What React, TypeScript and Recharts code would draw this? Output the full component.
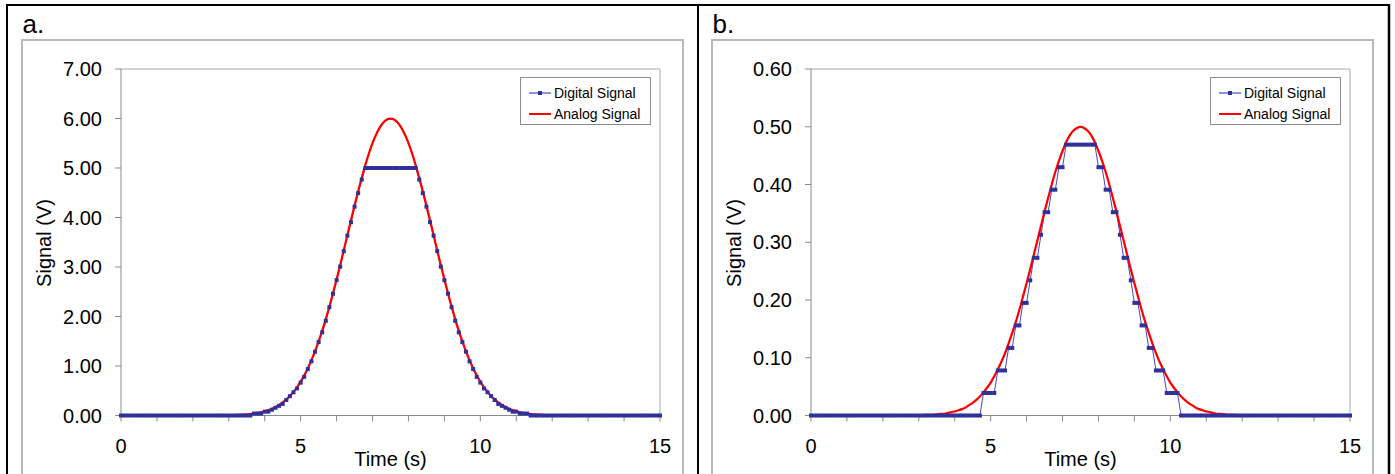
import React from 'react';
import { LineChart, Line, XAxis, YAxis, ReferenceLine, Legend } from 'recharts';

// Sample times (s)
const time = [
  0, 0.1, 0.2, 0.3, 0.4, 0.5, 0.6, 0.7, 0.8, 0.9,
  1, 1.1, 1.2, 1.3, 1.4, 1.5, 1.6, 1.7, 1.8, 1.9,
  2, 2.1, 2.2, 2.3, 2.4, 2.5, 2.6, 2.7, 2.8, 2.9,
  3, 3.1, 3.2, 3.3, 3.4, 3.5, 3.6, 3.7, 3.8, 3.9,
  4, 4.1, 4.2, 4.3, 4.4, 4.5, 4.6, 4.7, 4.8, 4.9,
  5, 5.1, 5.2, 5.3, 5.4, 5.5, 5.6, 5.7, 5.8, 5.9,
  6, 6.1, 6.2, 6.3, 6.4, 6.5, 6.6, 6.7, 6.8, 6.9,
  7, 7.1, 7.2, 7.3, 7.4, 7.5, 7.6, 7.7, 7.8, 7.9,
  8, 8.1, 8.2, 8.3, 8.4, 8.5, 8.6, 8.7, 8.8, 8.9,
  9, 9.1, 9.2, 9.3, 9.4, 9.5, 9.6, 9.7, 9.8, 9.9,
  10, 10.1, 10.2, 10.3, 10.4, 10.5, 10.6, 10.7, 10.8, 10.9,
  11, 11.1, 11.2, 11.3, 11.4, 11.5, 11.6, 11.7, 11.8, 11.9,
  12, 12.1, 12.2, 12.3, 12.4, 12.5, 12.6, 12.7, 12.8, 12.9,
  13, 13.1, 13.2, 13.3, 13.4, 13.5, 13.6, 13.7, 13.8, 13.9,
  14, 14.1, 14.2, 14.3, 14.4, 14.5, 14.6, 14.7, 14.8, 14.9,
  15,
];

// Panel a: analog signal (V)
const analogA = [
  0, 0, 0, 0, 0, 0, 0, 0, 0, 0,
  0, 0, 0, 0, 0, 0, 0, 0, 0, 0,
  0, 0, 0, 0, 0, 0.001, 0.001, 0.002, 0.003, 0.004,
  0.005, 0.007, 0.01, 0.013, 0.018, 0.023, 0.031, 0.04, 0.052, 0.067,
  0.085, 0.108, 0.137, 0.171, 0.213, 0.264, 0.324, 0.394, 0.477, 0.574,
  0.685, 0.812, 0.956, 1.118, 1.298, 1.496, 1.713, 1.948, 2.2, 2.467,
  2.747, 3.038, 3.337, 3.639, 3.942, 4.24, 4.529, 4.804, 5.061, 5.295,
  5.501, 5.676, 5.815, 5.917, 5.979, 6.0, 5.979, 5.917, 5.815, 5.676,
  5.501, 5.295, 5.061, 4.804, 4.529, 4.24, 3.942, 3.639, 3.337, 3.038,
  2.747, 2.467, 2.2, 1.948, 1.713, 1.496, 1.298, 1.118, 0.956, 0.812,
  0.685, 0.574, 0.477, 0.394, 0.324, 0.264, 0.213, 0.171, 0.137, 0.108,
  0.085, 0.067, 0.052, 0.04, 0.031, 0.023, 0.018, 0.013, 0.01, 0.007,
  0.005, 0.004, 0.003, 0.002, 0.001, 0.001, 0, 0, 0, 0,
  0, 0, 0, 0, 0, 0, 0, 0, 0, 0,
  0, 0, 0, 0, 0, 0, 0, 0, 0, 0,
  0,
];

// Panel a: digital signal (V), saturates at 5.00
const digitalA = [
  0, 0, 0, 0, 0, 0, 0, 0, 0, 0,
  0, 0, 0, 0, 0, 0, 0, 0, 0, 0,
  0, 0, 0, 0, 0, 0, 0, 0, 0, 0,
  0, 0, 0, 0, 0, 0, 0, 0.039, 0.039, 0.039,
  0.078, 0.078, 0.117, 0.156, 0.195, 0.234, 0.313, 0.391, 0.469, 0.547,
  0.664, 0.781, 0.938, 1.094, 1.289, 1.484, 1.68, 1.914, 2.188, 2.461,
  2.734, 3.008, 3.32, 3.633, 3.906, 4.219, 4.492, 4.766, 5, 5,
  5, 5, 5, 5, 5, 5, 5, 5, 5, 5,
  5, 5, 5, 4.766, 4.492, 4.219, 3.906, 3.633, 3.32, 3.008,
  2.734, 2.461, 2.188, 1.914, 1.68, 1.484, 1.289, 1.094, 0.938, 0.781,
  0.664, 0.547, 0.469, 0.391, 0.313, 0.234, 0.195, 0.156, 0.117, 0.078,
  0.078, 0.039, 0.039, 0.039, 0, 0, 0, 0, 0, 0,
  0, 0, 0, 0, 0, 0, 0, 0, 0, 0,
  0, 0, 0, 0, 0, 0, 0, 0, 0, 0,
  0, 0, 0, 0, 0, 0, 0, 0, 0, 0,
  0,
];

// Panel b: analog signal (V)
const analogB = [
  0, 0, 0, 0, 0, 0, 0, 0, 0, 0,
  0, 0, 0, 0, 0, 0, 0, 0, 0, 0,
  0, 0, 0, 0, 0, 0, 0, 0, 0, 0,
  0, 0, 0.001, 0.001, 0.001, 0.002, 0.003, 0.003, 0.004, 0.006,
  0.007, 0.009, 0.011, 0.014, 0.018, 0.022, 0.027, 0.033, 0.04, 0.048,
  0.057, 0.068, 0.08, 0.093, 0.108, 0.125, 0.143, 0.162, 0.183, 0.206,
  0.229, 0.253, 0.278, 0.303, 0.328, 0.353, 0.377, 0.4, 0.422, 0.441,
  0.458, 0.473, 0.485, 0.493, 0.498, 0.5, 0.498, 0.493, 0.485, 0.473,
  0.458, 0.441, 0.422, 0.4, 0.377, 0.353, 0.328, 0.303, 0.278, 0.253,
  0.229, 0.206, 0.183, 0.162, 0.143, 0.125, 0.108, 0.093, 0.08, 0.068,
  0.057, 0.048, 0.04, 0.033, 0.027, 0.022, 0.018, 0.014, 0.011, 0.009,
  0.007, 0.006, 0.004, 0.003, 0.003, 0.002, 0.001, 0.001, 0.001, 0,
  0, 0, 0, 0, 0, 0, 0, 0, 0, 0,
  0, 0, 0, 0, 0, 0, 0, 0, 0, 0,
  0, 0, 0, 0, 0, 0, 0, 0, 0, 0,
  0,
];

// Panel b: digital signal (V), quantized
const digitalB = [
  0, 0, 0, 0, 0, 0, 0, 0, 0, 0,
  0, 0, 0, 0, 0, 0, 0, 0, 0, 0,
  0, 0, 0, 0, 0, 0, 0, 0, 0, 0,
  0, 0, 0, 0, 0, 0, 0, 0, 0, 0,
  0, 0, 0, 0, 0, 0, 0, 0, 0.039, 0.039,
  0.039, 0.039, 0.078, 0.078, 0.078, 0.117, 0.117, 0.156, 0.156, 0.195,
  0.195, 0.234, 0.273, 0.273, 0.313, 0.352, 0.352, 0.391, 0.391, 0.43,
  0.43, 0.469, 0.469, 0.469, 0.469, 0.469, 0.469, 0.469, 0.469, 0.469,
  0.43, 0.43, 0.391, 0.391, 0.352, 0.352, 0.313, 0.273, 0.273, 0.234,
  0.195, 0.195, 0.156, 0.156, 0.117, 0.117, 0.078, 0.078, 0.078, 0.039,
  0.039, 0.039, 0.039, 0, 0, 0, 0, 0, 0, 0,
  0, 0, 0, 0, 0, 0, 0, 0, 0, 0,
  0, 0, 0, 0, 0, 0, 0, 0, 0, 0,
  0, 0, 0, 0, 0, 0, 0, 0, 0, 0,
  0, 0, 0, 0, 0, 0, 0, 0, 0, 0,
  0,
];

const xTicks = [0, 1, 2, 3, 4, 5, 6, 7, 8, 9, 10, 11, 12, 13, 14, 15];
const xLabelTicks = [0, 5, 10, 15];
const yTicksA = [0, 1, 2, 3, 4, 5, 6, 7];
const yTicksB = [0, 0.1, 0.2, 0.3, 0.4, 0.5, 0.6];
const seriesNames = ['Digital Signal', 'Analog Signal'];

const FONT = '"Liberation Sans", Arial, Helvetica, sans-serif';
const BLUE_LINE = '#4646c4';
const BLUE_MARK = '#30309a';
const RED = '#ff0000';

const dataA = time.map((t, i) => ({ t, digital: digitalA[i], analog: analogA[i] }));
const dataB = time.map((t, i) => ({ t, digital: digitalB[i], analog: analogB[i] }));

const squareDot = (p: any) => {
  if (p.cx == null || p.cy == null) return <g key={`e-${p.index}`} />;
  return <rect key={`d-${p.index}`} x={p.cx - 2} y={p.cy - 2} width={4} height={4} fill={BLUE_MARK} />;
};

const LegendBox = () => (
  <div
    style={{
      position: 'relative',
      width: 129,
      height: 46,
      border: '1px solid #8c8c8c',
      background: '#fff',
      fontFamily: FONT,
      fontSize: 14,
      color: '#000',
      boxSizing: 'content-box',
    }}
  >
    <svg width={30} height={46} style={{ position: 'absolute', left: 0, top: 0 }}>
      <line x1={8} y1={15} x2={30} y2={15} stroke={BLUE_LINE} strokeWidth={1.2} />
      <rect x={17} y={13} width={4} height={4} fill={BLUE_MARK} />
      <line x1={8} y1={36} x2={30} y2={36} stroke={RED} strokeWidth={2} />
    </svg>
    <div style={{ position: 'absolute', left: 33, top: 6, lineHeight: '18px', whiteSpace: 'nowrap' }}>{seriesNames[0]}</div>
    <div style={{ position: 'absolute', left: 33, top: 27, lineHeight: '18px', whiteSpace: 'nowrap' }}>{seriesNames[1]}</div>
  </div>
);

type PanelProps = {
  left: number;
  width: number;
  letter: string;
  data: { t: number; digital: number; analog: number }[];
  yMax: number;
  yTicks: number[];
};

const Panel = ({ left, width, letter, data, yMax, yTicks }: PanelProps) => {
  const plotLeft = 121;
  const plotRight = 660;
  const plotTop = 69;
  const plotBottom = 415.5;
  const xAxisH = 52;
  return (
    <div style={{ position: 'absolute', left, top: 0, width, height: 474, fontFamily: FONT }}>
      <svg width={width} height={474} style={{ position: 'absolute', left: 0, top: 0 }}>
        <rect x={22} y={40} width={661} height={460} fill="#fff" stroke="#b8b8b8" strokeWidth={2} />
        <text x={22.5} y={33} fontSize={26} fontFamily={FONT} fill="#000">{letter}</text>
      </svg>
      <div style={{ position: 'absolute', left: 0, top: 0 }}>
        <LineChart
          width={width}
          height={474}
          data={data}
          margin={{ top: plotTop, right: width - plotRight, left: 0, bottom: 474 - plotBottom - xAxisH }}
        >
          <XAxis
            dataKey="t"
            type="number"
            domain={[0, 15]}
            ticks={xTicks}
            interval={0}
            height={xAxisH}
            tickSize={6}
            tickMargin={17}
            stroke="#8a8a8a"
            tick={{ fill: '#000', fontSize: 20, fontFamily: FONT }}
            tickFormatter={(v: number) => (xLabelTicks.includes(v) ? String(v) : '')}
            label={{
              content: () => (
                <text x={(plotLeft + plotRight) / 2} y={466} textAnchor="middle" fontSize={20} fontFamily={FONT} fill="#000">
                  Time (s)
                </text>
              ),
            }}
          />
          <YAxis
            type="number"
            domain={[0, yMax]}
            ticks={yTicks}
            interval={0}
            width={plotLeft}
            tickSize={6}
            tickMargin={13}
            stroke="#8a8a8a"
            tick={{ fill: '#000', fontSize: 20, fontFamily: FONT }}
            tickFormatter={(v: number) => v.toFixed(2)}
            label={{
              content: () => (
                <text
                  x={50.5}
                  y={243}
                  transform="rotate(-90 50.5 243)"
                  textAnchor="middle"
                  fontSize={20}
                  fontFamily={FONT}
                  fill="#000"
                >
                  Signal (V)
                </text>
              ),
            }}
          />
          <ReferenceLine y={yMax} stroke="#c4c4c4" strokeWidth={1.5} />
          <ReferenceLine x={15} stroke="#c4c4c4" strokeWidth={1.5} />
          <Legend
            layout="vertical"
            align="center"
            verticalAlign="middle"
            content={() => <LegendBox />}
            wrapperStyle={{ position: 'absolute', left: 520, top: 77, width: 131, height: 48, margin: 0 }}
          />
          <Line
            type="linear"
            dataKey="digital"
            name={seriesNames[0]}
            stroke={BLUE_LINE}
            strokeWidth={1}
            dot={squareDot}
            activeDot={false}
            isAnimationActive={false}
          />
          <Line
            type="monotone"
            dataKey="analog"
            name={seriesNames[1]}
            stroke={RED}
            strokeWidth={2.25}
            dot={false}
            activeDot={false}
            isAnimationActive={false}
          />
        </LineChart>
      </div>
    </div>
  );
};

export default function App() {
  return (
    <div style={{ position: 'absolute', left: 0, top: 0, width: 1395, height: 474, background: '#fff', overflow: 'hidden' }}>
      <Panel left={0} width={700} letter="a." data={dataA} yMax={7} yTicks={yTicksA} />
      <Panel left={690} width={705} letter="b." data={dataB} yMax={0.6} yTicks={yTicksB} />
      <svg width={1395} height={474} style={{ position: 'absolute', left: 0, top: 0, pointerEvents: 'none' }}>
        <line x1={6} y1={5} x2={1390} y2={5} stroke="#000" strokeWidth={2} />
        <line x1={7} y1={4} x2={7} y2={474} stroke="#000" strokeWidth={2} />
        <line x1={698} y1={4} x2={698} y2={474} stroke="#000" strokeWidth={2} />
        <line x1={1389} y1={4} x2={1389} y2={474} stroke="#000" strokeWidth={2.5} />
      </svg>
    </div>
  );
}
